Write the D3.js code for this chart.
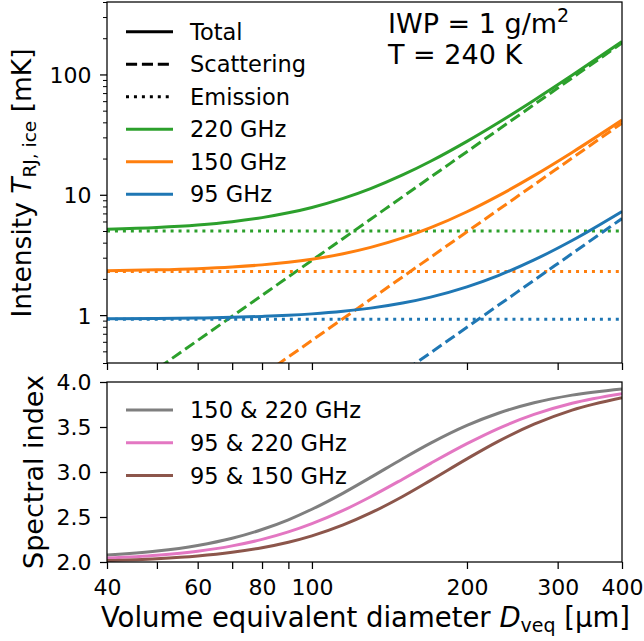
<!DOCTYPE html>
<html><head><meta charset="utf-8">
<script src="https://cdn.jsdelivr.net/npm/d3@7"></script>
<style>
body{margin:0;background:#fff;}
svg{display:block;font-family:"DejaVu Sans",sans-serif;}
</style></head><body>
<svg id="chart" width="644" height="641"></svg>
<script>
// ---------- data ----------
const diameters = [40, 50, 60, 70, 80, 90, 100, 115, 130, 150, 170, 200, 230, 270, 320, 400];

const total95  = [0.931, 0.937, 0.946, 0.959, 0.976, 0.997, 1.024, 1.076, 1.143, 1.260, 1.412, 1.718, 2.131, 2.876, 4.173, 7.270];
const total150 = [2.339, 2.377, 2.433, 2.511, 2.615, 2.749, 2.916, 3.237, 3.654, 4.380, 5.327, 7.229, 9.797, 14.43, 22.49, 41.74];
const total220 = [5.182, 5.356, 5.616, 5.978, 6.460, 7.079, 7.851, 9.336, 11.26, 14.62, 19.01, 27.81, 39.69, 61.12, 98.43, 187.5];

const scat95  = [0.00634, 0.01239, 0.02141, 0.03400, 0.05076, 0.07227, 0.09914, 0.1508, 0.2178, 0.3346, 0.4871, 0.7931, 1.206, 1.951, 3.248, 6.345];
const scat150 = [0.03943, 0.07702, 0.1331, 0.2114, 0.3155, 0.4492, 0.6162, 0.9371, 1.354, 2.080, 3.027, 4.929, 7.497, 12.13, 20.19, 39.44];
const scat220 = [0.1825, 0.3564, 0.6158, 0.9780, 1.460, 2.079, 2.851, 4.336, 6.264, 9.623, 14.01, 22.81, 34.69, 56.12, 93.43, 182.5];

const emis95  = [0.925, 0.925, 0.925, 0.925, 0.925, 0.925, 0.925, 0.925, 0.925, 0.925, 0.925, 0.925, 0.925, 0.925, 0.925, 0.925];
const emis150 = [2.30, 2.30, 2.30, 2.30, 2.30, 2.30, 2.30, 2.30, 2.30, 2.30, 2.30, 2.30, 2.30, 2.30, 2.30, 2.30];
const emis220 = [5.00, 5.00, 5.00, 5.00, 5.00, 5.00, 5.00, 5.00, 5.00, 5.00, 5.00, 5.00, 5.00, 5.00, 5.00, 5.00];

const index150_220 = [2.077, 2.121, 2.184, 2.264, 2.361, 2.469, 2.586, 2.766, 2.940, 3.148, 3.321, 3.518, 3.653, 3.769, 3.854, 3.923];
const index95_220  = [2.044, 2.076, 2.120, 2.179, 2.251, 2.334, 2.426, 2.573, 2.725, 2.920, 3.096, 3.315, 3.483, 3.640, 3.764, 3.870];
const index95_150  = [2.016, 2.037, 2.067, 2.108, 2.159, 2.220, 2.291, 2.412, 2.545, 2.728, 2.907, 3.146, 3.340, 3.531, 3.688, 3.826];

const freqLabels = ["220 GHz", "150 GHz", "95 GHz"];
const pairLabels = ["150 & 220 GHz", "95 & 220 GHz", "95 & 150 GHz"];
const styleLabels = ["Total", "Scattering", "Emission"];

const xTickValues = [40, 50, 60, 70, 80, 90, 100, 200, 300, 400];
const xTickLabels = [40, 60, 80, 100, 200, 300, 400];
const yTopMajor = [1, 10, 100];
const yTopMinor = [0.4,0.5,0.6,0.7,0.8,0.9,2,3,4,5,6,7,8,9,20,30,40,50,60,70,80,90,200,300,400];
const yBotTicks = [2.0, 2.5, 3.0, 3.5, 4.0];

// ---------- layout ----------
const X0 = 107, X1 = 622, T0 = 2, T1 = 363, B0 = 382, B1 = 562;
const FONT = '"DejaVu Sans", sans-serif';
const LW = 3;
const DASH = `${3.7*LW},${1.6*LW}`;
const DOT = `${LW},${1.65*LW}`;
const C = {green:"#2ca02c", orange:"#ff7f0e", blue:"#1f77b4", gray:"#7f7f7f", pink:"#e377c2", brown:"#8c564b"};

const svg = d3.select("#chart");
const x = d3.scaleLog().domain([40, 400]).range([X0, X1]);
const yT = d3.scaleLog().domain([0.4, 400]).range([T1, T0]);
const yB = d3.scaleLinear().domain([2, 4]).range([B1, B0]);

const defs = svg.append("defs");
defs.append("clipPath").attr("id","clipTop").append("rect").attr("x",X0).attr("y",T0).attr("width",X1-X0).attr("height",T1-T0);
defs.append("clipPath").attr("id","clipBot").append("rect").attr("x",X0).attr("y",B0).attr("width",X1-X0).attr("height",B1-B0);

function pathFor(yScale, ys){
  return d3.line().x((d,i)=>x(diameters[i])).y(d=>yScale(d)).curve(d3.curveMonotoneX)(ys);
}

// ---------- top panel ----------
const gTop = svg.append("g").attr("clip-path","url(#clipTop)");
const topSeries = [
  {tot: total220, sc: scat220, em: emis220, c: C.green},
  {tot: total150, sc: scat150, em: emis150, c: C.orange},
  {tot: total95,  sc: scat95,  em: emis95,  c: C.blue}
];
topSeries.forEach(s => {
  gTop.append("path").attr("d", pathFor(yT, s.tot)).attr("fill","none").attr("stroke", s.c).attr("stroke-width", LW);
  gTop.append("path").attr("d", pathFor(yT, s.sc)).attr("fill","none").attr("stroke", s.c).attr("stroke-width", LW).attr("stroke-dasharray", DASH);
  gTop.append("path").attr("d", pathFor(yT, s.em)).attr("fill","none").attr("stroke", s.c).attr("stroke-width", LW).attr("stroke-dasharray", DOT);
});

// ---------- bottom panel ----------
const gBot = svg.append("g").attr("clip-path","url(#clipBot)");
[[index150_220, C.gray],[index95_220, C.pink],[index95_150, C.brown]].forEach(([ys,c]) => {
  gBot.append("path").attr("d", pathFor(yB, ys)).attr("fill","none").attr("stroke", c).attr("stroke-width", LW);
});

// ---------- axes ----------
function styleAxis(g){
  g.attr("font-family", FONT).attr("font-size", 22);
  g.select(".domain").remove();
  g.selectAll(".tick line").attr("stroke","#000").attr("stroke-width",1.25);
  g.selectAll(".tick text").attr("fill","#000");
}
svg.append("g").attr("transform",`translate(0,${T1})`)
  .call(d3.axisBottom(x).tickValues(xTickValues).tickSize(7).tickFormat(""))
  .call(styleAxis);
svg.append("g").attr("transform",`translate(0,${B1})`)
  .call(d3.axisBottom(x).tickValues(xTickValues).tickSize(7).tickPadding(10)
        .tickFormat(d => xTickLabels.includes(d) ? String(d) : ""))
  .call(styleAxis);
svg.append("g").attr("transform",`translate(${X0},0)`)
  .call(d3.axisLeft(yT).tickValues(yTopMinor).tickSize(4).tickFormat(""))
  .call(styleAxis)
  .selectAll(".tick line").attr("stroke-width",1);
svg.append("g").attr("transform",`translate(${X0},0)`)
  .call(d3.axisLeft(yT).tickValues(yTopMajor).tickSize(7).tickPadding(8.5).tickFormat(d3.format("d")))
  .call(styleAxis)
  .selectAll(".tick text").attr("dy","0.36em");
svg.append("g").attr("transform",`translate(${X0},0)`)
  .call(d3.axisLeft(yB).tickValues(yBotTicks).tickSize(7).tickPadding(8.5).tickFormat(d3.format(".1f")))
  .call(styleAxis)
  .selectAll(".tick text").attr("dy","0.36em");

[[T0,T1],[B0,B1]].forEach(([a,b]) => {
  svg.append("rect").attr("x",X0).attr("y",a).attr("width",X1-X0).attr("height",b-a)
    .attr("fill","none").attr("stroke","#000").attr("stroke-width",1.25);
});

// ---------- legends ----------
const legTop = [
  {label: styleLabels[0], c:"#000", dash:null},
  {label: styleLabels[1], c:"#000", dash:DASH},
  {label: styleLabels[2], c:"#000", dash:DOT},
  {label: freqLabels[0], c:C.green, dash:null},
  {label: freqLabels[1], c:C.orange, dash:null},
  {label: freqLabels[2], c:C.blue, dash:null}
];
legTop.forEach((e,i) => {
  const yy = 31.7 + i*32.5;
  svg.append("line").attr("x1",126).attr("x2",173).attr("y1",yy).attr("y2",yy)
    .attr("stroke",e.c).attr("stroke-width",LW).attr("stroke-dasharray", e.dash);
  svg.append("text").attr("x",190).attr("y",yy).attr("dy","0.36em")
    .attr("font-size",22.5).attr("fill","#000").text(e.label);
});
const legBot = [[pairLabels[0],C.gray],[pairLabels[1],C.pink],[pairLabels[2],C.brown]];
legBot.forEach(([lab,c],i) => {
  const yy = 410 + i*32.8;
  svg.append("line").attr("x1",126).attr("x2",173).attr("y1",yy).attr("y2",yy)
    .attr("stroke",c).attr("stroke-width",LW);
  svg.append("text").attr("x",190).attr("y",yy).attr("dy","0.36em")
    .attr("font-size",22.5).attr("fill","#000").text(lab);
});

// ---------- annotation ----------
const ann1 = svg.append("text").attr("x",388).attr("y",33).attr("font-size",27).attr("fill","#000");
ann1.append("tspan").text("IWP = 1 g/m");
ann1.append("tspan").attr("font-size",19).attr("dy",-11).text("2");
svg.append("text").attr("x",388).attr("y",64).attr("font-size",27).attr("fill","#000").text("T = 240 K");

// ---------- axis labels ----------
const yl1 = svg.append("text").attr("transform","translate(31,183) rotate(-90)")
  .attr("text-anchor","middle").attr("font-size",26.5).attr("fill","#000");
yl1.append("tspan").text("Intensity ");
yl1.append("tspan").attr("font-style","italic").text("T");
yl1.append("tspan").attr("font-size",18.5).attr("dy",5).text("RJ, ice");
yl1.append("tspan").attr("dy",-5).text(" [mK]");

svg.append("text").attr("transform","translate(43,472) rotate(-90)")
  .attr("text-anchor","middle").attr("font-size",27).attr("fill","#000").text("Spectral index");

const xl = svg.append("text").attr("x",(X0+X1)/2 + 1).attr("y",627)
  .attr("text-anchor","middle").attr("font-size",27.5).attr("fill","#000");
xl.append("tspan").text("Volume equivalent diameter ");
xl.append("tspan").attr("font-style","italic").text("D");
xl.append("tspan").attr("font-size",19).attr("dy",5).text("veq");
xl.append("tspan").attr("dy",-5).text(" [μm]");
</script>
</body></html>
